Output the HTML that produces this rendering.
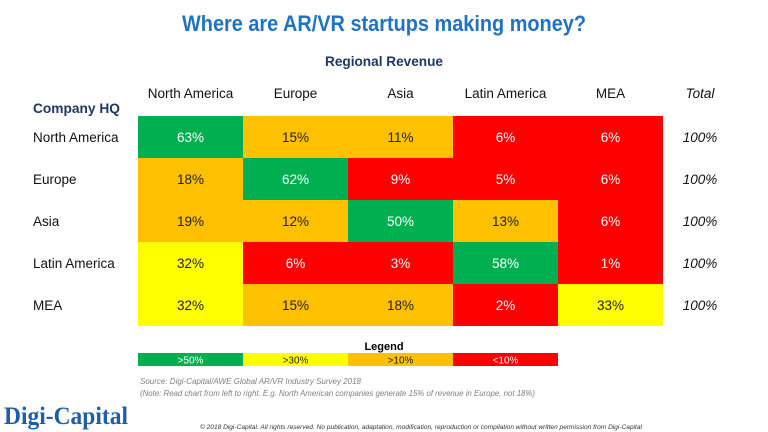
<!DOCTYPE html>
<html><head><meta charset="utf-8"><style>
html,body{margin:0;padding:0;background:#fff;width:768px;height:432px;overflow:hidden}
svg{display:block;font-family:"Liberation Sans",sans-serif}
</style></head><body>
<svg id="chart" width="768" height="432" viewBox="0 0 768 432">
<text x="384" y="31" text-anchor="middle" font-size="22" font-weight="bold" fill="#1f72c4" textLength="404" lengthAdjust="spacingAndGlyphs">Where are AR/VR startups making money?</text>
<text x="384" y="66" text-anchor="middle" font-size="14" font-weight="bold" fill="#1f3864" textLength="118" lengthAdjust="spacingAndGlyphs">Regional Revenue</text>
<text x="33" y="113" font-size="14" font-weight="bold" fill="#1f3864" textLength="87" lengthAdjust="spacingAndGlyphs">Company HQ</text>
<g id="cells"></g>
<text x="384" y="350" text-anchor="middle" font-size="11" font-weight="bold" fill="#000">Legend</text>
<g id="legend"></g>
<text x="140" y="384" font-size="8" font-style="italic" fill="#7f7f7f">Source: Digi-Capital/AWE Global AR/VR Industry Survey 2018</text>
<text x="140" y="396" font-size="8" font-style="italic" fill="#7f7f7f" textLength="395" lengthAdjust="spacingAndGlyphs">(Note: Read chart from left to right. E.g. North American companies generate 15% of revenue in Europe, not 18%)</text>
<text x="4" y="424" font-size="25" font-weight="bold" font-family="Liberation Serif,serif" fill="#1f5fa8" textLength="124" lengthAdjust="spacingAndGlyphs">Digi-Capital</text>
<text x="200" y="429" font-size="6.5" font-style="italic" fill="#333" textLength="442" lengthAdjust="spacingAndGlyphs">© 2018 Digi-Capital. All rights reserved. No publication, adaptation, modification, reproduction or compilation without written permission from Digi-Capital</text>
</svg>
<script>
const columns = ["North America","Europe","Asia","Latin America","MEA"];
const rows = ["North America","Europe","Asia","Latin America","MEA"];
const naValues = [63,15,11,6,6];
const euValues = [18,62,9,5,6];
const asiaValues = [19,12,50,13,6];
const latamValues = [32,6,3,58,1];
const meaValues = [32,15,18,2,33];
const totals = ["100%","100%","100%","100%","100%"];
const legendLabels = [">50%",">30%",">10%","<10%"];
const legendThresholds = [60,40,20,5];
const values = [naValues,euValues,asiaValues,latamValues,meaValues];

const NS = "http://www.w3.org/2000/svg";
const x0 = 138, colW = 105, y0 = 116, rowH = 42;
const xPos = i => x0 + i*colW;
const yPos = j => y0 + j*rowH;
function color(v){ return v>=50?"#00b050":v>30?"#ffff00":v>10?"#ffc000":"#ff0000"; }
function txtColor(v){ return (v>=50||v<=10)?"#ffffff":"#222222"; }
function mk(tag, attrs, parent){ const e=document.createElementNS(NS,tag); for(const k in attrs) e.setAttribute(k,attrs[k]); parent.appendChild(e); return e; }
const svg = document.getElementById("chart");
const g = document.getElementById("cells");
columns.forEach((c,i)=>{
  const t = mk("text",{x:xPos(i)+colW/2,y:98,"text-anchor":"middle","font-size":13.5,fill:"#111"},svg);
  t.textContent = c;
  
  
});
const tt = mk("text",{x:700,y:98,"text-anchor":"middle","font-size":13.5,"font-style":"italic",fill:"#111"},svg);
tt.textContent="Total";


rows.forEach((r,j)=>{
  const rl = mk("text",{x:33,y:yPos(j)+rowH/2+5,"font-size":13.5,fill:"#111"},svg);
  rl.textContent = r;
  
  
  values[j].forEach((v,i)=>{
    const rect = mk("rect",{x:xPos(i),y:yPos(j),width:colW,height:rowH,fill:color(v)},g);
    
    
    const t = mk("text",{x:xPos(i)+colW/2,y:yPos(j)+rowH/2+5,"text-anchor":"middle","font-size":13.5,fill:txtColor(v)},g);
    t.textContent = v+"%";
    
    
  });
  const tv = mk("text",{x:700,y:yPos(j)+rowH/2+5,"text-anchor":"middle","font-size":13.5,"font-style":"italic",fill:"#111"},svg);
  tv.textContent = totals[j];
  
  
});
const lg = document.getElementById("legend");
legendLabels.forEach((l,i)=>{
  const v = legendThresholds[i];
  const r = mk("rect",{x:xPos(i),y:353,width:colW,height:13,fill:color(v)},lg);
  
  
  const t = mk("text",{x:xPos(i)+colW/2,y:363.5,"text-anchor":"middle","font-size":10,fill:txtColor(v)},lg);
  t.textContent = l;
  
  
});
</script>
</body></html>
